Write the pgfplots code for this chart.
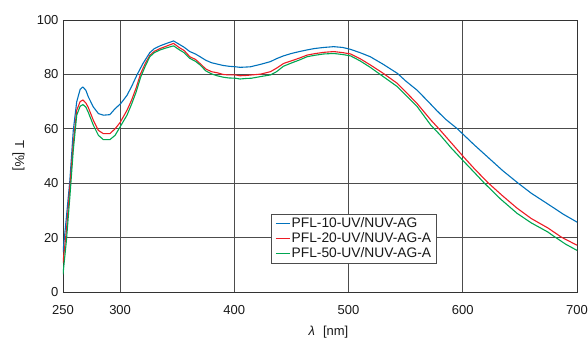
\documentclass[border=0pt]{standalone}
\usepackage{fontspec}
\setmainfont{Liberation Sans}
\usepackage{pgfplots}
\pgfplotsset{compat=1.18}
\definecolor{cblue}{RGB}{0,114,188}
\definecolor{cred}{RGB}{237,28,36}
\definecolor{cgreen}{RGB}{0,166,81}
\begin{document}
\begin{tikzpicture}
\begin{axis}[
 at={(0,0)}, anchor=south west,
 scale only axis, width=514pt, height=272pt,
 xmin=250, xmax=700, ymin=0, ymax=100,
 xtick={250,300,400,500,600,700},
 ytick={0,20,40,60,80,100},
 grid=major,
 major grid style={black!70, line width=0.7pt},
 axis line style={black!80, line width=0.8pt},
 major tick length=0pt,
 tick label style={font=\fontsize{13}{15}\selectfont, text=black!90},
 /pgf/number format/assume math mode=true,
 xticklabel style={yshift=-10pt},
 yticklabel style={xshift=-1pt},
 xlabel={\textit{λ}\hspace{8pt}[nm]},
 xlabel style={at={(axis description cs:0.5165,0)}, anchor=base, yshift=-43pt, font=\fontsize{13}{15}\selectfont, text=black!90},
 ylabel={T [\%]},
 ylabel style={at={(axis description cs:-0.0866,0.5)}, anchor=center, rotate=180, font=\fontsize{13}{15}\selectfont, text=black!90},
 legend style={at={(axis description cs:0.4047,0.1055)}, anchor=south west, draw=black!70, line width=0.6pt,
   font=\fontsize{13.8}{15}\selectfont, text=black!90, inner xsep=4pt, inner ysep=2pt,
   nodes={inner sep=1pt, text height=10pt, text depth=3pt}, cells={anchor=west}, row sep=0pt},
 legend image code/.code={\draw[#1, line width=1.3pt] (0pt,0pt) -- (14pt,0pt);},
 every axis plot/.append style={line width=1.1pt, line join=round},
]
\addplot[cblue] coordinates {
(250,14.7)(253,27.6)(256,41)(259,59.4)(262,69.9)(265,74.5)(267.3,75.4)(270,74.2)(272.2,71.7)(276.6,68)(281,65.6)(285.4,65)(291,65.2)(295.6,67.4)(300.6,69.3)(306,72.3)(310,75.5)(315,80)(320,84)(326,88)(330,89.5)(335,90.5)(340,91.3)(346.8,92.3)(352,91)(356,90)(361,88.4)(366,87.5)(370,86.5)(375,85.2)(380,84.3)(385,83.8)(390,83.3)(395,83)(401,82.8)(405,82.6)(410,82.7)(414,82.8)(423,83.7)(431.6,84.7)(437,85.8)(443,86.8)(450,87.7)(457,88.4)(463.7,89)(470,89.5)(478,89.9)(487,90.2)(495,89.9)(501.8,89.2)(510,88)(519,86.5)(530,83.8)(542.7,80.4)(550,77.6)(560,74.2)(570,69.9)(577,66.8)(585,63.5)(595.3,60)(600,58.1)(610,54.1)(625,48.4)(635,44.6)(648.5,40)(660,36.3)(674.3,32.4)(688,28.6)(700,25.7)
};
\addlegendentry{PFL-10-UV/NUV-AG}
\addplot[cred] coordinates {
(250,10.7)(253,22.7)(256,38.6)(259,54.6)(262,66.8)(265,70)(267.5,70.6)(270,69.5)(272,68)(276.6,63.1)(281,59.4)(285.4,58.2)(291,58.2)(295.6,60)(300,62.3)(306,66.8)(310,70.5)(314,75)(318,80.3)(322,84)(326,87)(330,88.5)(335,89.5)(340,90.3)(346.8,91.4)(352,89.8)(356,88.8)(361,86.5)(366,85.5)(370,84)(375,82)(380,81)(385,80.6)(390,80)(395,79.8)(401,79.8)(405,79.5)(410,79.6)(415,79.8)(423,80.1)(431.6,81)(437,82.3)(443,84)(450,85)(457,86)(463.7,87.1)(470,87.6)(478,88.1)(487,88.4)(495,88)(501.8,87.5)(510,85.8)(519,83.5)(530,80.5)(542.7,76.7)(550,73.6)(560,69.3)(571.9,63.3)(580,59.6)(590,54.8)(600,50)(610,45.4)(622,40.2)(635,35.3)(647.6,30.8)(660,27)(674.3,23.6)(686.6,20.1)(700,17.2)
};
\addlegendentry{PFL-20-UV/NUV-AG-A}
\addplot[cgreen] coordinates {
(250,6.5)(253,19)(256,34.9)(259,52.1)(262,65)(265,68.3)(267.5,68.9)(270,68)(272,66.2)(276.6,61.3)(281,57.6)(285.4,56)(291,56)(295.6,57.6)(300,60.7)(306,65)(310,69)(314,73.5)(318,79)(322,83)(326,86.5)(330,88)(335,89)(340,89.7)(346.8,90.5)(352,89)(356,88)(361,85.9)(366,84.8)(370,83.5)(375,81.3)(380,80.2)(385,79.5)(390,79)(395,78.7)(401,78.6)(405,78.3)(410,78.5)(415,78.6)(423,79.2)(431.6,79.8)(437,81)(443,83)(450,84.2)(457,85.3)(463.7,86.5)(470,87)(478,87.5)(487,87.7)(495,87.3)(501.8,86.8)(510,85)(519,82.6)(530,79.3)(542.7,75.5)(550,72.4)(560,68.2)(571.9,61.4)(580,57.8)(590,52.9)(600,48.4)(610,44)(618.7,40.1)(633,34.2)(647.6,28.9)(660,25.4)(674.3,22.1)(680,20.4)(690,17.6)(700,15.3)
};
\addlegendentry{PFL-50-UV/NUV-AG-A}
\end{axis}
\pgfresetboundingbox
\path (-63pt,-46pt) rectangle (525pt,292pt);
\end{tikzpicture}
\end{document}
